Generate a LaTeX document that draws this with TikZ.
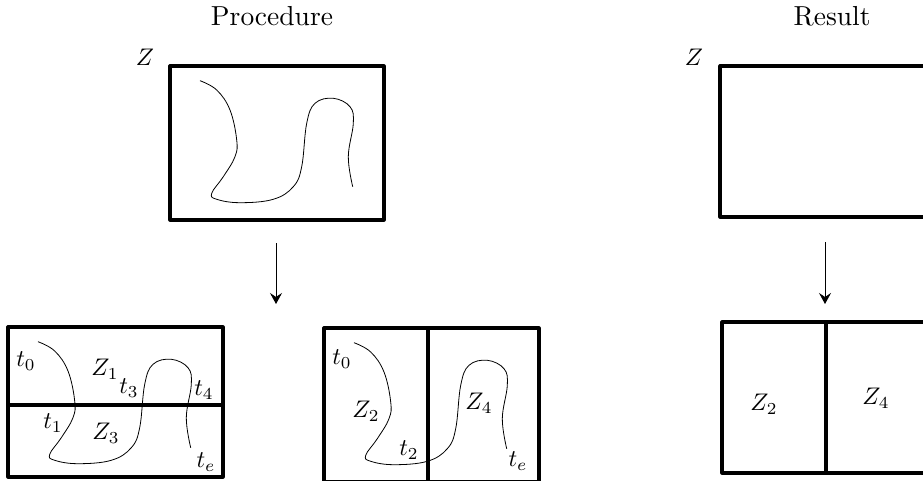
\documentclass[tikz,border=0pt]{standalone}
\usetikzlibrary{arrows.meta}
\begin{document}
\begin{tikzpicture}[x=1pt,y=-1pt,
  boxline/.style={line width=3.2pt, line join=round},
  pathline/.style={line width=0.8pt},
  lbl/.style={scale=2.4, inner sep=0pt},
  ttl/.style={scale=2.75, inner sep=0pt},
  flow/.style={line width=0.8pt, -{Stealth[length=11pt,width=12pt,inset=4pt]}}
]
\useasboundingbox (0,0) rectangle (923,481);
\clip (0,0) rectangle (923,481);
\def\trajectory{plot[smooth, tension=0.65] coordinates {(30,14.7) (46.7,24) (60,44) (66.7,74) (65,90.7) (53.3,110.7) (41.7,127.3) (46.7,133.3) (70,136.7) (103.3,133.3) (123.3,120.7) (131.7,100.7) (136.7,57.3) (145,37.3) (163.3,32.3) (180,40.7) (183.3,57.3) (178.3,90.7) (182.7,120.7)}}

% titles
\node[ttl] (tproc) at (272,16) {Procedure};
\node[ttl] (tres) at (832,16) {Result};

% top-left box
\draw[boxline] (170,66) rectangle (384,220);
\begin{scope}[shift={(170,66)}]
  \draw[pathline] \trajectory;
\end{scope}
\node[lbl] (zl) at (145,57) {$Z$};

% top-right box
\draw[boxline] (720,66) rectangle (934,217);
\node[lbl] (zr) at (694,57) {$Z$};

% arrows
\coordinate (a1s) at (276,243);
\coordinate (a1e) at (276,304);
\coordinate (a2s) at (825,242);
\coordinate (a2e) at (825,304);
\draw[flow] (a1s) -- (a1e);
\draw[flow] (a2s) -- (a2e);

% bottom-left box
\draw[boxline] (8,327) rectangle (223,477);
\draw[boxline] (8,405) -- (223,405);
\begin{scope}[shift={(8,327)}]
  \draw[pathline] \trajectory;
\end{scope}
\node[lbl] (bl0) at (26,361) {$t_0$};
\node[lbl] (blz1) at (105,369) {$Z_1$};
\node[lbl] (bl3) at (129,388) {$t_3$};
\node[lbl] (bl4) at (204,390) {$t_4$};
\node[lbl] (bl1) at (53,423) {$t_1$};
\node[lbl] (blz3) at (106,433) {$Z_3$};
\node[lbl] (ble) at (206,462) {$t_e$};

% bottom-middle box
\draw[boxline] (324,328) rectangle (539,482);
\draw[boxline] (428,328) -- (428,482);
\begin{scope}[shift={(324,328)}]
  \draw[pathline] \trajectory;
\end{scope}
\node[lbl] (bm0) at (342,359) {$t_0$};
\node[lbl] (bmz2) at (366,411) {$Z_2$};
\node[lbl] (bmz4) at (479,403) {$Z_4$};
\node[lbl] (bm2) at (409,450) {$t_2$};
\node[lbl] (bme) at (518,461) {$t_e$};

% bottom-right box
\draw[boxline] (722,322) rectangle (936,473);
\draw[boxline] (826,322) -- (826,473);
\node[lbl] (brz2) at (764,404) {$Z_2$};
\node[lbl] (brz4) at (876,398) {$Z_4$};
\end{tikzpicture}
\end{document}
